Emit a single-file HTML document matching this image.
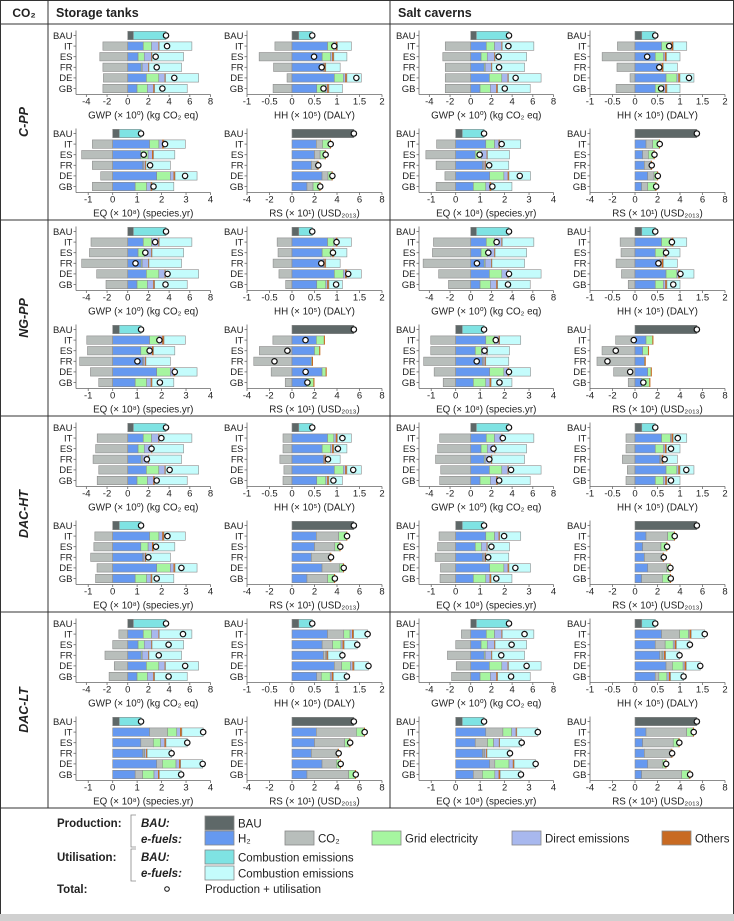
<!DOCTYPE html>
<html><head><meta charset="utf-8"><style>
html,body{margin:0;padding:0;background:#fff}
svg{display:block}
text{font-family:"Liberation Sans","DejaVu Sans",sans-serif;fill:#222}
</style></head><body>
<svg id="chart" xmlns="http://www.w3.org/2000/svg" width="734" height="921" viewBox="0 0 734 921"></svg>
<script>
const countries = ['BAU','IT','ES','FR','DE','GB'];
const scenarios = ['C-PP','NG-PP','DAC-HT','DAC-LT'];
const storages = ['Storage tanks','Salt caverns'];
const indicators = ['GWP','HH','EQ','RS'];
const axisMin = [-5,-1,-1.5,-4];
const axisMax = [8,2,4,8];
const tickGWP = [-4,-2,0,2,4,6,8];
const tickHH = [-1,-0.5,0,0.5,1,1.5,2];
const tickEQ = [-1,0,1,2,3,4];
const tickRS = [-4,-2,0,2,4,6,8];
const titles = ['GWP (× 10⁰) (kg CO₂ eq)','HH (× 10⁵) (DALY)','EQ (× 10⁸) (species.yr)','RS (× 10¹) (USD₂₀₁₃)'];
const bauProd = [0.55,0.15,0.27,5.5];
const bauComb = [3.15,0.3,0.89,0];
// [GWP, HH, EQ, RS] x [IT, ES, FR, DE, GB]
const h2Tank = [[1.5,1.0,1.3,1.8,0.9],[0.79,0.67,0.70,0.94,0.55],[1.51,1.15,1.23,1.8,0.92],[2.16,2.0,1.72,2.67,1.33]];
const h2Salt = [[1.5,1.0,1.3,1.8,0.9],[0.59,0.45,0.55,0.69,0.45],[1.23,0.8,1.1,1.39,0.72],[0.98,0.68,0.83,1.13,0.59]];
const gridTank = [[0.8,0.6,0.1,1.2,1.0],[0.14,0.19,0.01,0.2,0.2],[0.38,0.3,0.03,0.56,0.47],[0.7,0.45,0.08,0.35,0.6]];
const gridSalt = [[0.8,0.6,0.1,1.2,1.0],[0.2,0.18,0.02,0.24,0.18],[0.36,0.25,0.03,0.58,0.51],[0.59,0.5,0.06,0.3,0.71]];
const directTank = [[0.7,0.7,0.6,0.6,0.6],[0.05,0.04,0.02,0.05,0.04],[0.15,0.17,0.07,0.14,0.18],[0,0,0,0,0]];
const directSalt = [[0.7,0.7,0.6,0.6,0.6],[0.03,0.04,0.03,0.04,0.05],[0.18,0.23,0.07,0.17,0.17],[0,0,0,0,0]];
const othersTank = [[0.05,0.05,0.05,0.05,0.1],[0.03,0.03,0.02,0.03,0.03],[0.06,0.05,0.03,0.05,0.04],[0.04,0.04,0.04,0.04,0.04]];
const othersSalt = [[0.05,0.05,0.05,0.05,0.1],[0.03,0.03,0.03,0.03,0.03],[0.03,0.02,0.03,0.04,0.05],[0.04,0.04,0.04,0.04,0.04]];
const combTank = [[3.15,3.05,3.15,3.2,3.15],[0.31,0.29,0.32,0.32,0.3],[0.87,0.87,1.0,0.9,0.89],[0,0,0,0,0]];
const combSalt = [[3.05,3.05,3.15,3.15,3.15],[0.30,0.30,0.31,0.31,0.29],[0.86,0.9,0.94,0.88,0.85],[0,0,0,0,0]];
// CO2 contribution per scenario [C-PP, NG-PP, DAC-HT, DAC-LT] x indicator x country
const co2Tank = [
 [[-2.4,-2.7,-2.4,-2.35,-2.4],[-0.38,-0.73,-0.41,-0.11,-0.42],[-0.83,-1.27,-0.83,-0.49,-0.83],[0.54,0.5,0.5,0.53,0.54]],
 [[-3.55,-3.7,-4.45,-3.0,-2.1],[-0.33,-0.31,-0.42,-0.29,-0.14],[-1.06,-1.03,-1.35,-0.91,-0.57],[-1.7,-2.9,-3.4,-1.85,-0.6]],
 [[-2.95,-3.1,-3.35,-2.8,-2.95],[-0.2,-0.2,-0.27,-0.18,-0.2],[-0.73,-0.77,-0.9,-0.64,-0.7],[1.99,1.8,1.63,1.54,1.84]],
 [[-0.86,-1.45,-2.2,-1.3,-1.8],[0.36,0.23,0.05,0.16,0.1],[0.73,0.51,0.05,0.23,0.3],[3.56,2.68,2.31,1.27,3.7]]];
const co2Salt = [
 [[-2.46,-2.7,-2.46,-2.46,-2.46],[-0.39,-0.73,-0.4,-0.11,-0.42],[-0.78,-1.22,-0.8,-0.44,-0.8],[0.59,0.51,0.56,0.56,0.54]],
 [[-3.6,-3.7,-4.6,-3.1,-2.15],[-0.33,-0.31,-0.42,-0.3,-0.15],[-1.02,-1.02,-1.31,-0.88,-0.51],[-1.72,-2.93,-3.38,-1.9,-0.6]],
 [[-3.0,-3.2,-3.4,-2.9,-3.0],[-0.2,-0.2,-0.28,-0.17,-0.2],[-0.68,-0.74,-0.84,-0.62,-0.64],[1.92,1.63,1.63,1.68,1.84]],
 [[-0.9,-1.45,-2.25,-1.4,-1.85],[0.4,0.22,0.05,0.14,0.08],[0.7,0.5,0.05,0.21,0.37],[3.61,2.72,2.37,1.3,3.56]]];

const C = {bau:'#5e6868',bauComb:'#7fe3e3',h2:'#6699f0',co2:'#b8bebb',grid:'#a6f5a0',direct:'#a8b8ee',others:'#c86a22',comb:'#c4fcfc'};
const NS='http://www.w3.org/2000/svg';
const svg=document.getElementById('chart');
function mk(tag,attrs,parent){const e=document.createElementNS(NS,tag);for(const k in attrs)e.setAttribute(k,attrs[k]);(parent||svg).appendChild(e);return e;}
function txt(x,y,s,attrs,parent){const t=mk('text',Object.assign({x:x,y:y},attrs||{}),parent);t.textContent=s;return t;}

// table frame
const frame=mk('g',{});


const rowTops=[24,220,416,612];
mk('rect',{x:0.5,y:0.5,width:733,height:915,fill:'none',stroke:'#333','stroke-width':1},frame);
mk('line',{x1:48,y1:0,x2:48,y2:808,stroke:'#333','stroke-width':1},frame);
mk('line',{x1:390,y1:0,x2:390,y2:808,stroke:'#333','stroke-width':1},frame);
[24,220,416,612,808].forEach(y=>mk('line',{x1:0,y1:y,x2:734,y2:y,stroke:'#333','stroke-width':1},frame));
mk('rect',{x:0,y:914,width:734,height:7,fill:'#d0d0d0'},frame);

const h0=txt(24,17,'CO₂',{'text-anchor':'middle','font-weight':'bold','font-size':12});


const h1=txt(56,17,'Storage tanks',{'font-weight':'bold','font-size':12.5});


const h2=txt(398,17,'Salt caverns',{'font-weight':'bold','font-size':12.5});



scenarios.forEach((s,si)=>{
  const cy=rowTops[si]+98;
  const t=txt(0,0,s,{'text-anchor':'middle','font-weight':'bold','font-style':'italic','font-size':12.5,transform:`translate(28,${cy}) rotate(-90)`});
  
  
});

const ticksAll=[tickGWP,tickHH,tickEQ,tickRS];
const STEP=10.6, BH=8.4;

function drawPanel(si,st,ind,bx,bauY){
  const g=mk('g',{});
  
  
  const right=(ind===1||ind===3);
  const x0=bx+(right?247:76), x1=bx+(right?382:210.5);
  const mn=axisMin[ind], mx=axisMax[ind];
  const xs=v=>x0+(v-mn)/(mx-mn)*(x1-x0);
  const ys=i=>bauY+i*STEP;
  const gbY=ys(5), axY=gbY+6;
  // axes
  mk('line',{x1:x0,y1:bauY-5,x2:x0,y2:axY,stroke:'#666','stroke-width':0.8},g);
  mk('line',{x1:x0,y1:axY,x2:x1,y2:axY,stroke:'#666','stroke-width':0.8},g);
  ticksAll[ind].forEach(tv=>{
    const x=xs(tv);
    mk('line',{x1:x,y1:axY,x2:x,y2:axY+2.5,stroke:'#666','stroke-width':0.8},g);
    const tl=txt(x,gbY+16,String(tv),{'text-anchor':'middle','font-size':9.5},g);
    
    
  });
  const tt=txt((x0+x1)/2,gbY+30,titles[ind],{'text-anchor':'middle','font-size':9.8},g);
  
  
  const H2=(st?h2Salt:h2Tank)[ind], GR=(st?gridSalt:gridTank)[ind], DI=(st?directSalt:directTank)[ind],
        OT=(st?othersSalt:othersTank)[ind], CB=(st?combSalt:combTank)[ind], CO=(st?co2Salt:co2Tank)[si][ind];
  countries.forEach((c,i)=>{
    const y=ys(i);
    mk('line',{x1:x0-2.5,y1:y,x2:x0,y2:y,stroke:'#666','stroke-width':0.8},g);
    const cl=txt(x0-3.5,y+3.3,c,{'text-anchor':'end','font-size':9.5},g);
    
    
    let segs=[], total=0;
    if(i===0){
      segs=[['bau',bauProd[ind]],['bauComb',bauComb[ind]]];
    } else {
      const k=i-1;
      segs=[['h2',H2[k]]];
      if(CO[k]>0) segs.push(['co2',CO[k]]);
      segs.push(['grid',GR[k]],['direct',DI[k]],['others',OT[k]],['comb',CB[k]]);
      if(CO[k]<0){
        const r=mk('rect',{x:xs(CO[k]),y:y-BH/2,width:xs(0)-xs(CO[k]),height:BH,fill:C.co2,stroke:'#8c8c8c','stroke-width':0.6},g);
        
        
        total+=CO[k];
      }
    }
    let acc=0;
    const bg=mk('rect',{},g);
    segs.forEach(([key,v])=>{
      if(v<=0) return;
      const r=mk('rect',{x:xs(acc),y:y-BH/2,width:xs(acc+v)-xs(acc),height:BH,fill:C[key],stroke:key==='others'?C.others:'#8c8c8c','stroke-width':0.6},g);
      
      
      acc+=v;
    });
    total+=acc;
    g.removeChild(bg);
    const d=mk('circle',{cx:xs(total),cy:y,r:2.7,fill:'#fff',stroke:'#111','stroke-width':1.2},g);
    
    
  });
}

scenarios.forEach((s,si)=>{
  storages.forEach((st,sti)=>{
    const bx=sti*343;
    const top=rowTops[si]+11.5;
    drawPanel(si,sti,0,bx,top);
    drawPanel(si,sti,1,bx,top);
    drawPanel(si,sti,2,bx,top+98);
    drawPanel(si,sti,3,bx,top+98);
  });
});

// legend
const lg=mk('g',{});


const lt=(x,y,s,a)=>txt(x,y,s,Object.assign({'font-size':11.5},a||{}),lg);
lt(57,827,'Production:',{'font-weight':'bold'});
lt(57,861,'Utilisation:',{'font-weight':'bold'});
lt(57,893,'Total:',{'font-weight':'bold'});
lt(141,827,'BAU:',{'font-weight':'bold','font-style':'italic'});
lt(141,843,'e-fuels:',{'font-weight':'bold','font-style':'italic'});
lt(141,861,'BAU:',{'font-weight':'bold','font-style':'italic'});
lt(141,877,'e-fuels:',{'font-weight':'bold','font-style':'italic'});
mk('path',{d:'M136,815 H131 V847 H136',fill:'none',stroke:'#888','stroke-width':0.8},lg);
mk('path',{d:'M136,849 H131 V881 H136',fill:'none',stroke:'#888','stroke-width':0.8},lg);
const items=[[205,816,C.bau,'BAU'],[205,831,C.h2,'H₂'],[285,831,C.co2,'CO₂'],[372,831,C.grid,'Grid electricity'],[512,831,C.direct,'Direct emissions'],[662,831,C.others,'Others'],[205,850,C.bauComb,'Combustion emissions'],[205,866,C.comb,'Combustion emissions']];
items.forEach(([x,y,col,label])=>{
  const e=mk('g',{},lg);
  
  
  mk('rect',{x:x,y:y,width:29,height:14,fill:col,stroke:'#888','stroke-width':0.8},e);
  txt(x+33,y+11.5,label,{'font-size':11.5},e);
});
mk('circle',{cx:167,cy:889,r:2.3,fill:'#fff',stroke:'#111','stroke-width':1},lg);
lt(205,893,'Production + utilisation');
</script>
</body></html>
